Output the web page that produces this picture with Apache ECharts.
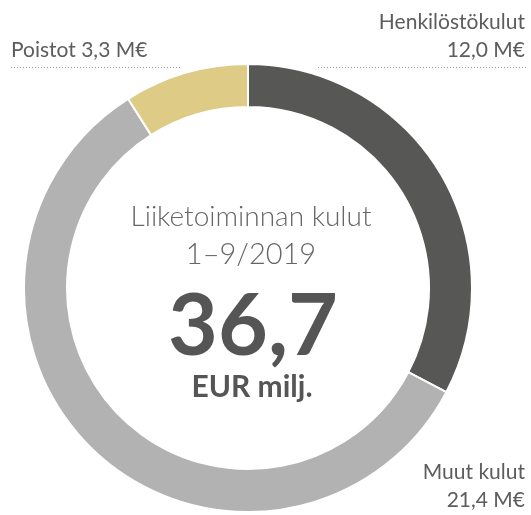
<!DOCTYPE html>
<html>
<head>
<meta charset="utf-8">
<script src="https://cdn.jsdelivr.net/npm/echarts@6/dist/echarts.min.js"></script>
<style>
  html, body { margin: 0; padding: 0; background: #fff; }
  #main { width: 531px; height: 515px; }
</style>
</head>
<body>
<div id="main"></div>
<script>
var categories = ['Henkilöstökulut', 'Muut kulut', 'Poistot'];
var values = [12.0, 21.4, 3.3];
var valueLabels = ['12,0 M€', '21,4 M€', '3,3 M€'];
var colors = ['#575756', '#b2b2b2', '#ddcb86'];
var centerLines = ['Liiketoiminnan kulut', '1–9/2019'];
var totalLabel = '36,7';
var unitLabel = 'EUR milj.';

var myChart = echarts.init(document.getElementById('main'));

var txtColor = '#5d5d5d';
var font = 'Lato, "Open Sans", sans-serif';

option = {
	animation : false,
	series : [ {
		type : 'pie',
		center : [ 248, 288 ],
		radius : [ 181, 224 ],
		startAngle : 90,
		clockwise : true,
		label : { show : false },
		labelLine : { show : false },
		itemStyle : {
			borderColor : '#fff',
			borderWidth : 2
		},
		data : categories.map(function(c, i) {
			return { name : c, value : values[i], itemStyle : { color : colors[i] } };
		})
	} ],
	graphic : [
		// center texts
		{ type : 'text', x : 251, y : 217, style : { text : centerLines[0], align : 'center', verticalAlign : 'middle', font : '300 28px ' + font, fill : '#666' } },
		{ type : 'text', x : 251, y : 255, style : { text : centerLines[1], align : 'center', verticalAlign : 'middle', font : '300 29px ' + font, fill : '#666' } },
		{ type : 'text', x : 253, y : 327, style : { text : totalLabel, align : 'center', verticalAlign : 'middle', font : 'bold 86px ' + font, fill : '#555' } },
		{ type : 'text', x : 252, y : 387, style : { text : unitLabel, align : 'center', verticalAlign : 'middle', font : 'bold 30px ' + font, fill : '#555' } },
		// Henkilöstökulut
		{ type : 'text', x : 525, y : 22, style : { text : categories[0], align : 'right', verticalAlign : 'middle', font : '21px ' + font, fill : txtColor } },
		{ type : 'text', x : 525, y : 50, style : { text : valueLabels[0], align : 'right', verticalAlign : 'middle', font : '21px ' + font, fill : txtColor } },
		{ type : 'line', shape : { x1 : 318, y1 : 67.5, x2 : 526, y2 : 67.5 }, style : { stroke : '#999', lineWidth : 1, lineDash : [ 1, 2 ] } },
		// Poistot
		{ type : 'text', x : 11, y : 50, style : { text : categories[2] + ' ' + valueLabels[2], align : 'left', verticalAlign : 'middle', font : '21px ' + font, fill : txtColor } },
		{ type : 'line', shape : { x1 : 11, y1 : 67.5, x2 : 182, y2 : 67.5 }, style : { stroke : '#999', lineWidth : 1, lineDash : [ 1, 2 ] } },
		// Muut kulut
		{ type : 'text', x : 525, y : 472, style : { text : categories[1], align : 'right', verticalAlign : 'middle', font : '21px ' + font, fill : txtColor } },
		{ type : 'text', x : 525, y : 500, style : { text : valueLabels[1], align : 'right', verticalAlign : 'middle', font : '21px ' + font, fill : txtColor } }
	]
};
myChart.setOption(option);
</script>
</body>
</html>
